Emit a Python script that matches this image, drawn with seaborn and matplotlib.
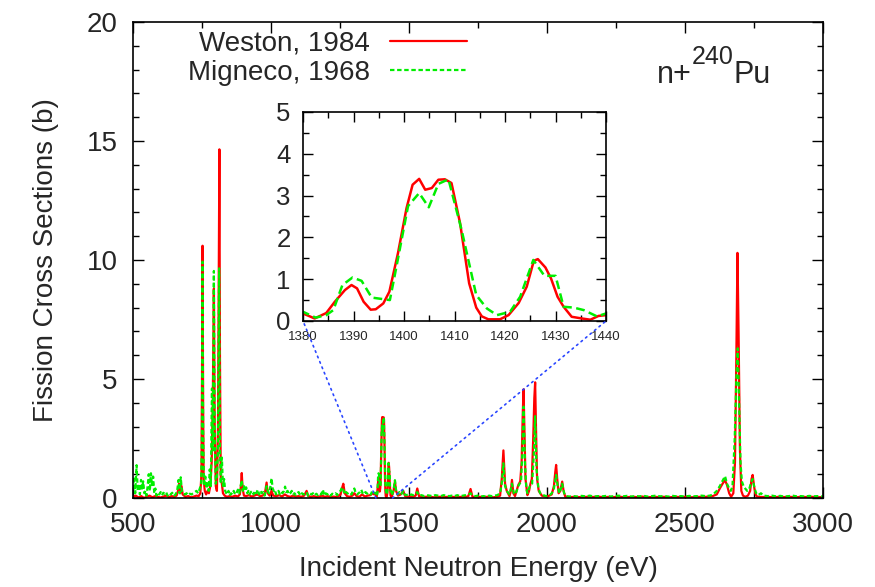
import matplotlib
matplotlib.use("Agg")
import matplotlib.pyplot as plt
from matplotlib.patches import ConnectionPatch
from matplotlib.lines import Line2D
from matplotlib.ticker import MultipleLocator
import pandas as pd
import seaborn as sns

# ── data (energy in eV, cross section in b) ───────────────────────────────────
weston_e = [
    500, 510, 520, 530, 540, 550, 560, 570, 580, 590,
    600, 610, 620, 630, 640, 650, 658, 663, 667, 671,
    676, 680, 690, 700, 710, 720, 730, 738, 744, 748,
    750, 752, 754, 756, 760, 765, 770, 775, 780, 785,
    789, 793, 796, 800, 804, 808, 811, 813, 815, 818,
    822, 826, 832, 840, 850, 860, 870, 880, 887, 891,
    894, 897, 902, 910, 920, 930, 940, 950, 960, 970,
    978, 984, 988, 995, 1002, 1008, 1020, 1030, 1040, 1050,
    1060, 1070, 1080, 1090, 1100, 1110, 1120, 1129, 1135, 1145,
    1155, 1165, 1175, 1185, 1195, 1205, 1215, 1225, 1235, 1245,
    1252, 1257, 1262, 1267, 1275, 1285, 1295, 1302, 1310, 1320,
    1330, 1340, 1350, 1360, 1368, 1374,
    1380, 1382.3, 1384.6, 1386.3, 1388.3, 1389.6, 1390.7, 1392, 1393.4, 1394.4,
    1395.9, 1397.1, 1398.8, 1400.5, 1401.7, 1403, 1404.2, 1405.5, 1406.8, 1408.1,
    1409.4, 1411.1, 1412.9, 1414.3, 1415.4, 1416.7, 1419, 1420.7, 1422.7, 1424.3,
    1425.7, 1426.5, 1428, 1429.1, 1430.4, 1431.6, 1433.2, 1435.2, 1436.9, 1438.5,
    1440,
    1444, 1449, 1453, 1460, 1470, 1479, 1486, 1495, 1505, 1515,
    1524, 1530, 1536, 1550, 1570, 1590, 1610, 1630, 1650, 1670,
    1690, 1705, 1715, 1723, 1730, 1745, 1760, 1775, 1790, 1805,
    1820, 1830, 1836, 1842, 1848, 1854, 1864, 1869, 1873, 1878,
    1884, 1896, 1903, 1908, 1912, 1915, 1918, 1922, 1929, 1935,
    1940, 1945, 1950, 1954, 1957, 1960, 1964, 1970, 1981, 1999,
    2017, 2025, 2030, 2033, 2037, 2042, 2048, 2055, 2060, 2066,
    2085, 2105, 2125, 2145, 2165, 2185, 2205, 2225, 2245, 2265,
    2285, 2305, 2325, 2345, 2365, 2385, 2405, 2425, 2445, 2465,
    2485, 2505, 2525, 2545, 2565, 2585, 2600, 2615, 2626, 2636,
    2645, 2652, 2660, 2667, 2675, 2681, 2686, 2690, 2694, 2699,
    2704, 2710, 2718, 2728, 2736, 2741, 2745, 2749, 2754, 2760,
    2780, 2800, 2820, 2840, 2860, 2880, 2900, 2920, 2940, 2960,
    2980, 3000,
]
weston_xs = [
    0.05, 0.10, 0.02, 0.08, 0.00, 0.06, 0.10, 0.03, 0.08, 0.05,
    0.02, 0.06, 0.10, 0.04, 0.08, 0.05, 0.10, 0.30, 0.60, 0.20,
    0.50, 0.15, 0.05, 0.08, 0.03, 0.06, 0.10, 0.08, 0.20, 1.00,
    5.00, 10.60, 4.00, 0.80, 0.30, 0.15, 0.30, 0.20, 0.50, 1.50,
    4.00, 8.80, 3.00, 0.50, 0.30, 3.00, 10.00, 14.65, 6.00, 0.80,
    0.60, 0.20, 0.10, 0.05, 0.08, 0.05, 0.10, 0.06, 0.15, 0.50,
    1.05, 0.40, 0.10, 0.08, 0.12, 0.06, 0.10, 0.15, 0.08, 0.10,
    0.20, 0.65, 0.20, 0.10, 0.30, 0.10, 0.08, 0.12, 0.06, 0.15,
    0.08, 0.05, 0.10, 0.06, 0.08, 0.05, 0.10, 0.30, 0.08, 0.05,
    0.08, 0.04, 0.06, 0.10, 0.05, 0.08, 0.04, 0.06, 0.05, 0.08,
    0.15, 0.40, 0.60, 0.20, 0.08, 0.05, 0.10, 0.20, 0.08, 0.05,
    0.15, 0.06, 0.10, 0.12, 0.20, 0.15,
    0.18, 0.06, 0.19, 0.46, 0.74, 0.86, 0.78, 0.46, 0.27, 0.28,
    0.42, 0.70, 1.62, 2.70, 3.26, 3.40, 3.14, 3.18, 3.38, 3.39,
    3.30, 2.34, 0.90, 0.32, 0.11, 0.04, 0.04, 0.14, 0.43, 0.82,
    1.44, 1.48, 1.28, 1.02, 0.58, 0.34, 0.10, 0.06, 0.03, 0.12,
    0.14,
    0.30, 0.70, 0.30, 0.10, 0.15, 0.30, 0.08, 0.05, 0.06, 0.05,
    0.10, 0.40, 0.08, 0.04, 0.06, 0.03, 0.05, 0.04, 0.06, 0.03,
    0.05, 0.04, 0.08, 0.38, 0.05, 0.03, 0.05, 0.04, 0.06, 0.03,
    0.05, 0.10, 0.80, 2.00, 0.60, 0.30, 0.08, 0.30, 0.76, 0.20,
    0.08, 0.55, 0.70, 1.50, 3.50, 4.57, 3.00, 0.80, 0.12, 0.30,
    0.60, 0.80, 2.50, 4.20, 4.86, 3.00, 0.80, 0.30, 0.10, 0.05,
    0.15, 0.50, 1.10, 1.39, 0.80, 0.20, 0.30, 0.69, 0.30, 0.06,
    0.04, 0.05, 0.03, 0.05, 0.04, 0.06, 0.03, 0.05, 0.04, 0.05,
    0.03, 0.05, 0.04, 0.06, 0.03, 0.05, 0.04, 0.05, 0.03, 0.05,
    0.04, 0.05, 0.03, 0.05, 0.04, 0.06, 0.08, 0.15, 0.40, 0.60,
    0.75, 0.55, 0.20, 0.05, 0.20, 1.50, 6.00, 10.30, 7.00, 2.00,
    0.30, 0.10, 0.05, 0.10, 0.30, 0.80, 0.97, 0.60, 0.20, 0.06,
    0.04, 0.05, 0.03, 0.05, 0.04, 0.05, 0.03, 0.05, 0.04, 0.05,
    0.03, 0.04,
]

migneco_e = [
    500, 504, 508, 513, 517, 521, 525, 529, 533, 537,
    541, 545, 549, 553, 557, 561, 565, 569, 573, 577,
    581, 585, 590, 595, 600, 605, 610, 615, 620, 625,
    630, 636, 642, 648, 654, 660, 665, 669, 673, 677,
    682, 688, 694, 700, 706, 712, 718, 724, 730, 736,
    742, 747, 750, 752, 754, 757, 762, 766, 770, 774,
    778, 782, 786, 789, 793, 796, 800, 804, 808, 812,
    815, 818, 822, 826, 830, 834, 838, 842, 846, 850,
    855, 860, 865, 870, 875, 880, 885, 890, 894, 898,
    902, 906, 910, 914, 918, 922, 927, 932, 937, 942,
    947, 952, 957, 962, 967, 972, 977, 981, 984, 988,
    993, 998, 1002, 1006, 1010, 1014, 1018, 1022, 1027, 1032,
    1037, 1042, 1047, 1051, 1055, 1060, 1065, 1070, 1075, 1080,
    1085, 1090, 1095, 1100, 1106, 1112, 1118, 1124, 1129, 1134,
    1140, 1146, 1152, 1158, 1164, 1170, 1176, 1182, 1188, 1193,
    1198, 1204, 1210, 1216, 1222, 1228, 1234, 1240, 1246, 1252,
    1257, 1262, 1267, 1272, 1277, 1282, 1287, 1292, 1297, 1302,
    1307, 1312, 1317, 1322, 1327, 1332, 1337, 1342, 1347, 1352,
    1357, 1362, 1367, 1372, 1376,
    1380, 1382.5, 1384.6, 1386, 1387.8, 1389.8, 1391.6, 1393.6, 1397.2, 1398.5,
    1400.8, 1403, 1404.9, 1406.8, 1408.8, 1411.4, 1414.3, 1416.4, 1418.4, 1421,
    1423, 1425.6, 1427.8, 1430, 1431.6, 1433.6, 1435.6, 1438.2, 1440,
    1443, 1446, 1449, 1452, 1456, 1460, 1465, 1470, 1475, 1479,
    1484, 1490, 1496, 1502, 1508, 1515, 1522, 1530, 1536, 1545,
    1555, 1565, 1575, 1585, 1595, 1605, 1615, 1625, 1635, 1645,
    1655, 1665, 1675, 1685, 1695, 1705, 1715, 1723, 1730, 1740,
    1750, 1760, 1770, 1780, 1790, 1800, 1810, 1820, 1830, 1836,
    1842, 1848, 1854, 1864, 1873, 1880, 1886, 1896, 1906, 1911,
    1915, 1920, 1925, 1929, 1933, 1938, 1946, 1952, 1957, 1962,
    1969, 1975, 1981, 1990, 1999, 2008, 2017, 2025, 2033, 2040,
    2045, 2050, 2055, 2062, 2069, 2080, 2095, 2110, 2125, 2140,
    2155, 2170, 2185, 2200, 2215, 2230, 2245, 2260, 2275, 2290,
    2305, 2320, 2335, 2350, 2365, 2380, 2395, 2410, 2425, 2440,
    2455, 2470, 2485, 2500, 2515, 2530, 2545, 2560, 2575, 2590,
    2602, 2615, 2626, 2635, 2645, 2652, 2660, 2666, 2672, 2680,
    2686, 2691, 2696, 2701, 2706, 2712, 2718, 2725, 2732, 2738,
    2745, 2752, 2758, 2765, 2775, 2785, 2800, 2815, 2830, 2845,
    2860, 2875, 2890, 2905, 2920, 2935, 2950, 2965, 2980, 3000,
]
migneco_xs = [
    0.35, 0.90, 0.20, 1.38, 0.30, 0.60, 0.15, 0.76, 0.40, 0.70,
    0.20, 0.30, 0.10, 0.50, 1.00, 0.30, 1.04, 0.50, 0.90, 0.20,
    0.40, 0.10, 0.22, 0.15, 0.25, 0.12, 0.22, 0.18, 0.25, 0.10,
    0.20, 0.15, 0.22, 0.08, 0.15, 0.30, 0.76, 0.20, 0.87, 0.30,
    0.18, 0.15, 0.20, 0.12, 0.18, 0.15, 0.20, 0.25, 0.30, 0.20,
    0.40, 0.60, 3.00, 9.93, 3.00, 0.50, 0.90, 0.40, 0.70, 0.30,
    1.20, 0.50, 4.60, 2.00, 9.54, 2.50, 0.60, 0.90, 2.00, 9.65,
    2.00, 0.60, 1.70, 0.50, 0.80, 0.30, 0.20, 0.15, 0.30, 0.10,
    0.20, 0.15, 0.30, 0.15, 0.20, 0.35, 0.20, 0.50, 0.75, 0.30,
    0.50, 0.30, 0.45, 0.20, 0.30, 0.15, 0.25, 0.30, 0.15, 0.30,
    0.20, 0.35, 0.15, 0.30, 0.20, 0.25, 0.10, 0.30, 0.50, 0.30,
    0.20, 0.50, 0.83, 0.40, 0.30, 0.35, 0.15, 0.20, 0.30, 0.15,
    0.25, 0.20, 0.30, 0.48, 0.25, 0.30, 0.15, 0.20, 0.30, 0.15,
    0.20, 0.12, 0.20, 0.25, 0.10, 0.20, 0.15, 0.20, 0.25, 0.10,
    0.20, 0.15, 0.20, 0.10, 0.18, 0.12, 0.20, 0.15, 0.35, 0.10,
    0.20, 0.15, 0.20, 0.10, 0.18, 0.15, 0.20, 0.12, 0.25, 0.30,
    0.45, 0.35, 0.15, 0.25, 0.20, 0.15, 0.20, 0.15, 0.30, 0.40,
    0.20, 0.15, 0.20, 0.25, 0.35, 0.20, 0.15, 0.25, 0.20, 0.15,
    0.20, 0.15, 0.30, 0.25, 0.20,
    0.22, 0.08, 0.14, 0.26, 0.86, 1.04, 0.96, 0.56, 0.50, 1.30,
    2.75, 3.06, 2.72, 3.28, 3.39, 2.18, 0.62, 0.30, 0.14, 0.22,
    0.58, 1.46, 1.08, 1.08, 0.34, 0.32, 0.26, 0.11, 0.18,
    0.30, 0.50, 0.75, 0.40, 0.20, 0.15, 0.25, 0.15, 0.20, 0.30,
    0.15, 0.12, 0.15, 0.10, 0.15, 0.12, 0.15, 0.25, 0.10, 0.12,
    0.08, 0.12, 0.10, 0.08, 0.12, 0.10, 0.08, 0.12, 0.10, 0.08,
    0.10, 0.08, 0.12, 0.08, 0.10, 0.12, 0.15, 0.20, 0.10, 0.08,
    0.10, 0.06, 0.08, 0.06, 0.10, 0.08, 0.10, 0.12, 0.20, 0.60,
    1.46, 0.50, 0.30, 0.15, 0.60, 0.20, 0.15, 0.50, 0.70, 2.00,
    3.84, 1.50, 0.40, 0.20, 0.35, 0.50, 0.60, 1.80, 3.44, 1.20,
    0.40, 0.20, 0.20, 0.10, 0.08, 0.10, 0.20, 0.40, 0.97, 0.40,
    0.20, 0.40, 0.60, 0.20, 0.08, 0.06, 0.08, 0.06, 0.09, 0.07,
    0.10, 0.06, 0.08, 0.07, 0.09, 0.06, 0.08, 0.10, 0.07, 0.09,
    0.06, 0.08, 0.07, 0.09, 0.06, 0.08, 0.10, 0.07, 0.08, 0.06,
    0.09, 0.07, 0.08, 0.06, 0.09, 0.07, 0.08, 0.10, 0.08, 0.10,
    0.15, 0.30, 0.50, 0.70, 0.92, 0.60, 0.40, 0.30, 0.50, 2.50,
    5.00, 6.29, 4.00, 1.50, 0.70, 0.50, 0.40, 0.30, 0.35, 0.60,
    0.80, 0.40, 0.20, 0.12, 0.20, 0.10, 0.08, 0.10, 0.07, 0.09,
    0.06, 0.08, 0.10, 0.07, 0.08, 0.06, 0.09, 0.07, 0.08, 0.06,
]

series_labels = ["Weston, 1984", "Migneco, 1968"]
x_ticks_main = [500, 1000, 1500, 2000, 2500, 3000]
y_ticks_main = [0, 5, 10, 15, 20]
x_ticks_inset = [1380, 1390, 1400, 1410, 1420, 1430, 1440]
y_ticks_inset = [0, 1, 2, 3, 4, 5]

RED = "#ff0000"
GREEN = "#00ee00"
BLUE = "#2a46ff"

sns.set_theme(style="ticks")
plt.rcParams["font.family"] = ["Liberation Sans", "DejaVu Sans"]

weston = pd.DataFrame({"energy": weston_e, "xs": weston_xs})
migneco = pd.DataFrame({"energy": migneco_e, "xs": migneco_xs})

fig = plt.figure(figsize=(8.75, 5.87), dpi=100)
ax = fig.add_axes([0.152, 0.1516, 0.7886, 0.8109])
axins = fig.add_axes([0.3463, 0.4532, 0.3463, 0.356])


def draw_series(a, lw, dash):
    sns.lineplot(data=weston, x="energy", y="xs", ax=a, color=RED,
                 linewidth=lw, estimator=None, sort=False)
    sns.lineplot(data=migneco, x="energy", y="xs", ax=a, color=GREEN,
                 linewidth=lw, linestyle=(0, dash), estimator=None, sort=False)


def style_axes(a, xmaj, ymaj, xmin, ymin, maj_len, min_len):
    a.set_xticks(xmaj)
    a.set_yticks(ymaj)
    a.xaxis.set_minor_locator(MultipleLocator(xmin))
    a.yaxis.set_minor_locator(MultipleLocator(ymin))
    a.tick_params(which="both", direction="in", top=True, right=True,
                  color="black", width=1.0)
    a.tick_params(which="major", length=maj_len)
    a.tick_params(which="minor", length=min_len)
    for s in a.spines.values():
        s.set_color("black")
        s.set_linewidth(1.2)


# ── main panel ────────────────────────────────────────────────────────────────
draw_series(ax, 1.6, (2.0, 1.2))
ax.set_xlim(500, 3000)
ax.set_ylim(0, 20)
style_axes(ax, x_ticks_main, y_ticks_main, 250, 1, 8, 4)
ax.tick_params(axis="x", which="major", labelsize=20, pad=10)
ax.tick_params(axis="y", which="major", labelsize=20, pad=11)
ax.set_xlabel("Incident Neutron Energy (eV)", fontsize=20, labelpad=13)
ax.set_ylabel("Fission Cross Sections (b)", fontsize=20, labelpad=20)

handles = [
    Line2D([0], [0], color=RED, lw=1.6),
    Line2D([0], [0], color=GREEN, lw=1.6, linestyle=(0, (2.0, 1.2))),
]
ax.legend(handles, series_labels, loc="upper left", bbox_to_anchor=(0.079, 0.982),
          markerfirst=False, frameon=False, fontsize=20, handlelength=2.8,
          handletextpad=0.72, labelspacing=0.13, borderpad=0, borderaxespad=0)

# n+^240Pu, built from three pieces so the superscript stays large
base_y = 0.871
t1 = ax.text(0.759, base_y, "n+", transform=ax.transAxes, fontsize=22, va="baseline")
fig.canvas.draw()
renderer = fig.canvas.get_renderer()
to_axes = ax.transAxes.inverted()
x1 = to_axes.transform((t1.get_window_extent(renderer).x1, 0))[0]
t2 = ax.text(x1, base_y + 19 / 476, "240", transform=ax.transAxes,
             fontsize=18, va="baseline")
fig.canvas.draw()
x2 = to_axes.transform((t2.get_window_extent(renderer).x1, 0))[0]
ax.text(x2, base_y, "Pu", transform=ax.transAxes, fontsize=22, va="baseline")

# ── inset ─────────────────────────────────────────────────────────────────────
draw_series(axins, 1.8, (3.5, 1.8))
axins.set_xlim(x_ticks_inset[0], x_ticks_inset[-1])
axins.set_ylim(0, 5)
style_axes(axins, x_ticks_inset, y_ticks_inset, 5, 0.5, 7, 4)
axins.tick_params(axis="x", which="major", labelsize=9.5, pad=7)
axins.tick_params(axis="y", which="major", labelsize=18.5, pad=9)
axins.set_xlabel("")
axins.set_ylabel("")
axins.set_facecolor("white")

for e, fx in [(x_ticks_inset[0], 0), (x_ticks_inset[-1], 1)]:
    con = ConnectionPatch(xyA=(e, 0), coordsA=ax.transData,
                          xyB=(fx, 0), coordsB=axins.transAxes,
                          color=BLUE, lw=1.2, linestyle=(0, (1, 2.5)))
    fig.add_artist(con)

fig.savefig("out.png", dpi=100)
